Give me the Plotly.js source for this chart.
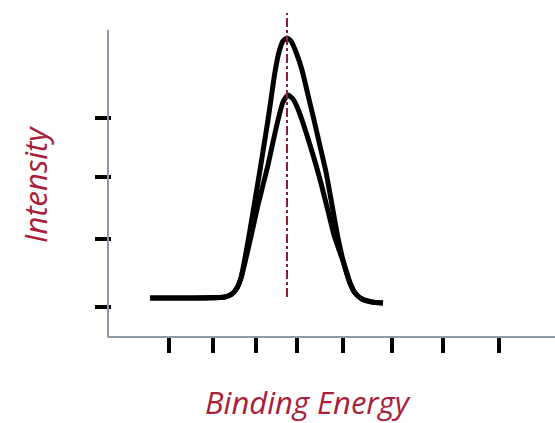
<!DOCTYPE html>
<html>
<head>
<meta charset="utf-8">
<script src="https://cdn.plot.ly/plotly-3.0.1.min.js"></script>
<style>html,body{margin:0;padding:0;background:#fff;}#chart{width:555px;height:423px;}</style>
</head>
<body>
<div id="chart"></div>
<script>
// Binding energy (arbitrary units) and intensity (arbitrary units)
const energyHigh = [43, 118, 125, 130, 134, 138, 143, 148, 153, 157, 161, 165, 168, 172, 176, 180, 184, 189, 195, 201, 207, 213, 219, 225, 231, 237, 243, 248, 255, 265, 276];
const intensityHigh = [39, 40, 43, 49, 59, 79, 107, 137, 167, 192, 217, 245, 265, 285, 296, 299, 296, 285, 267, 242, 217, 191, 165, 132, 99, 73, 54, 44, 38, 35, 34];

const energyLow = [43, 118, 125, 130, 134, 139, 145, 151, 156, 161, 166, 171, 176, 181, 186, 191, 197, 203, 209, 215, 221, 227, 237, 243, 248, 255, 265, 276];
const intensityLow = [39, 40, 43, 49, 59, 79, 105, 132, 152, 172, 195, 217, 235, 242, 238, 228, 211, 192, 172, 150, 126, 102, 73, 54, 44, 38, 35, 34];

const peakEnergy = 180;
const xTickVals = [62, 106, 149, 190, 236, 285, 336, 392];
const yTickVals = [30, 98, 160, 219];
const xTitle = "Binding Energy";
const yTitle = "Intensity";

const titleFont = {family: "Open Sans, sans-serif", size: 31, color: "#a8213a", style: "italic"};
const axisColor = "#8d9aa6";

const traces = [
  {x: energyHigh, y: intensityHigh, mode: "lines", line: {color: "#000", width: 5, shape: "spline", smoothing: 0.5}, hoverinfo: "skip"},
  {x: energyLow, y: intensityLow, mode: "lines", line: {color: "#000", width: 5, shape: "spline", smoothing: 0.5}, hoverinfo: "skip"}
];

const layout = {
  width: 555, height: 423,
  margin: {l: 112, r: 0, t: 10, b: 86},
  paper_bgcolor: "#fff", plot_bgcolor: "#fff",
  showlegend: false,
  xaxis: {
    range: [5, 448], showgrid: false, zeroline: false, showline: false,
    ticks: "outside", tickvals: xTickVals, ticklen: 15, tickwidth: 4, tickcolor: "#000",
    showticklabels: false, fixedrange: true
  },
  yaxis: {
    range: [0, 327], showgrid: false, zeroline: false, showline: false,
    ticks: "outside", tickvals: yTickVals, ticklen: 16, tickwidth: 4, tickcolor: "#000",
    showticklabels: false, fixedrange: true
  },
  shapes: [
    {type: "line", xref: "paper", yref: "y", x0: -0.009, x1: -0.009, y0: 0, y1: 307, line: {color: axisColor, width: 2}},
    {type: "line", xref: "paper", yref: "paper", x0: -0.01, x1: 1, y0: 0, y1: 0, line: {color: axisColor, width: 2}},
    {type: "line", xref: "x", yref: "y", x0: peakEnergy, x1: peakEnergy, y0: 40, y1: 324, line: {color: "#8a2035", width: 2, dash: "dashdot"}}
  ],
  annotations: [
    {text: xTitle, xref: "paper", yref: "paper", x: 0.442, y: -0.2, xanchor: "center", yanchor: "middle", showarrow: false, font: titleFont},
    {text: yTitle, xref: "paper", yref: "paper", x: -0.174, y: 0.468, xanchor: "center", yanchor: "middle", textangle: -90, showarrow: false, font: titleFont}
  ]
};

Plotly.newPlot("chart", traces, layout, {staticPlot: true, displayModeBar: false});
</script>
</body>
</html>
